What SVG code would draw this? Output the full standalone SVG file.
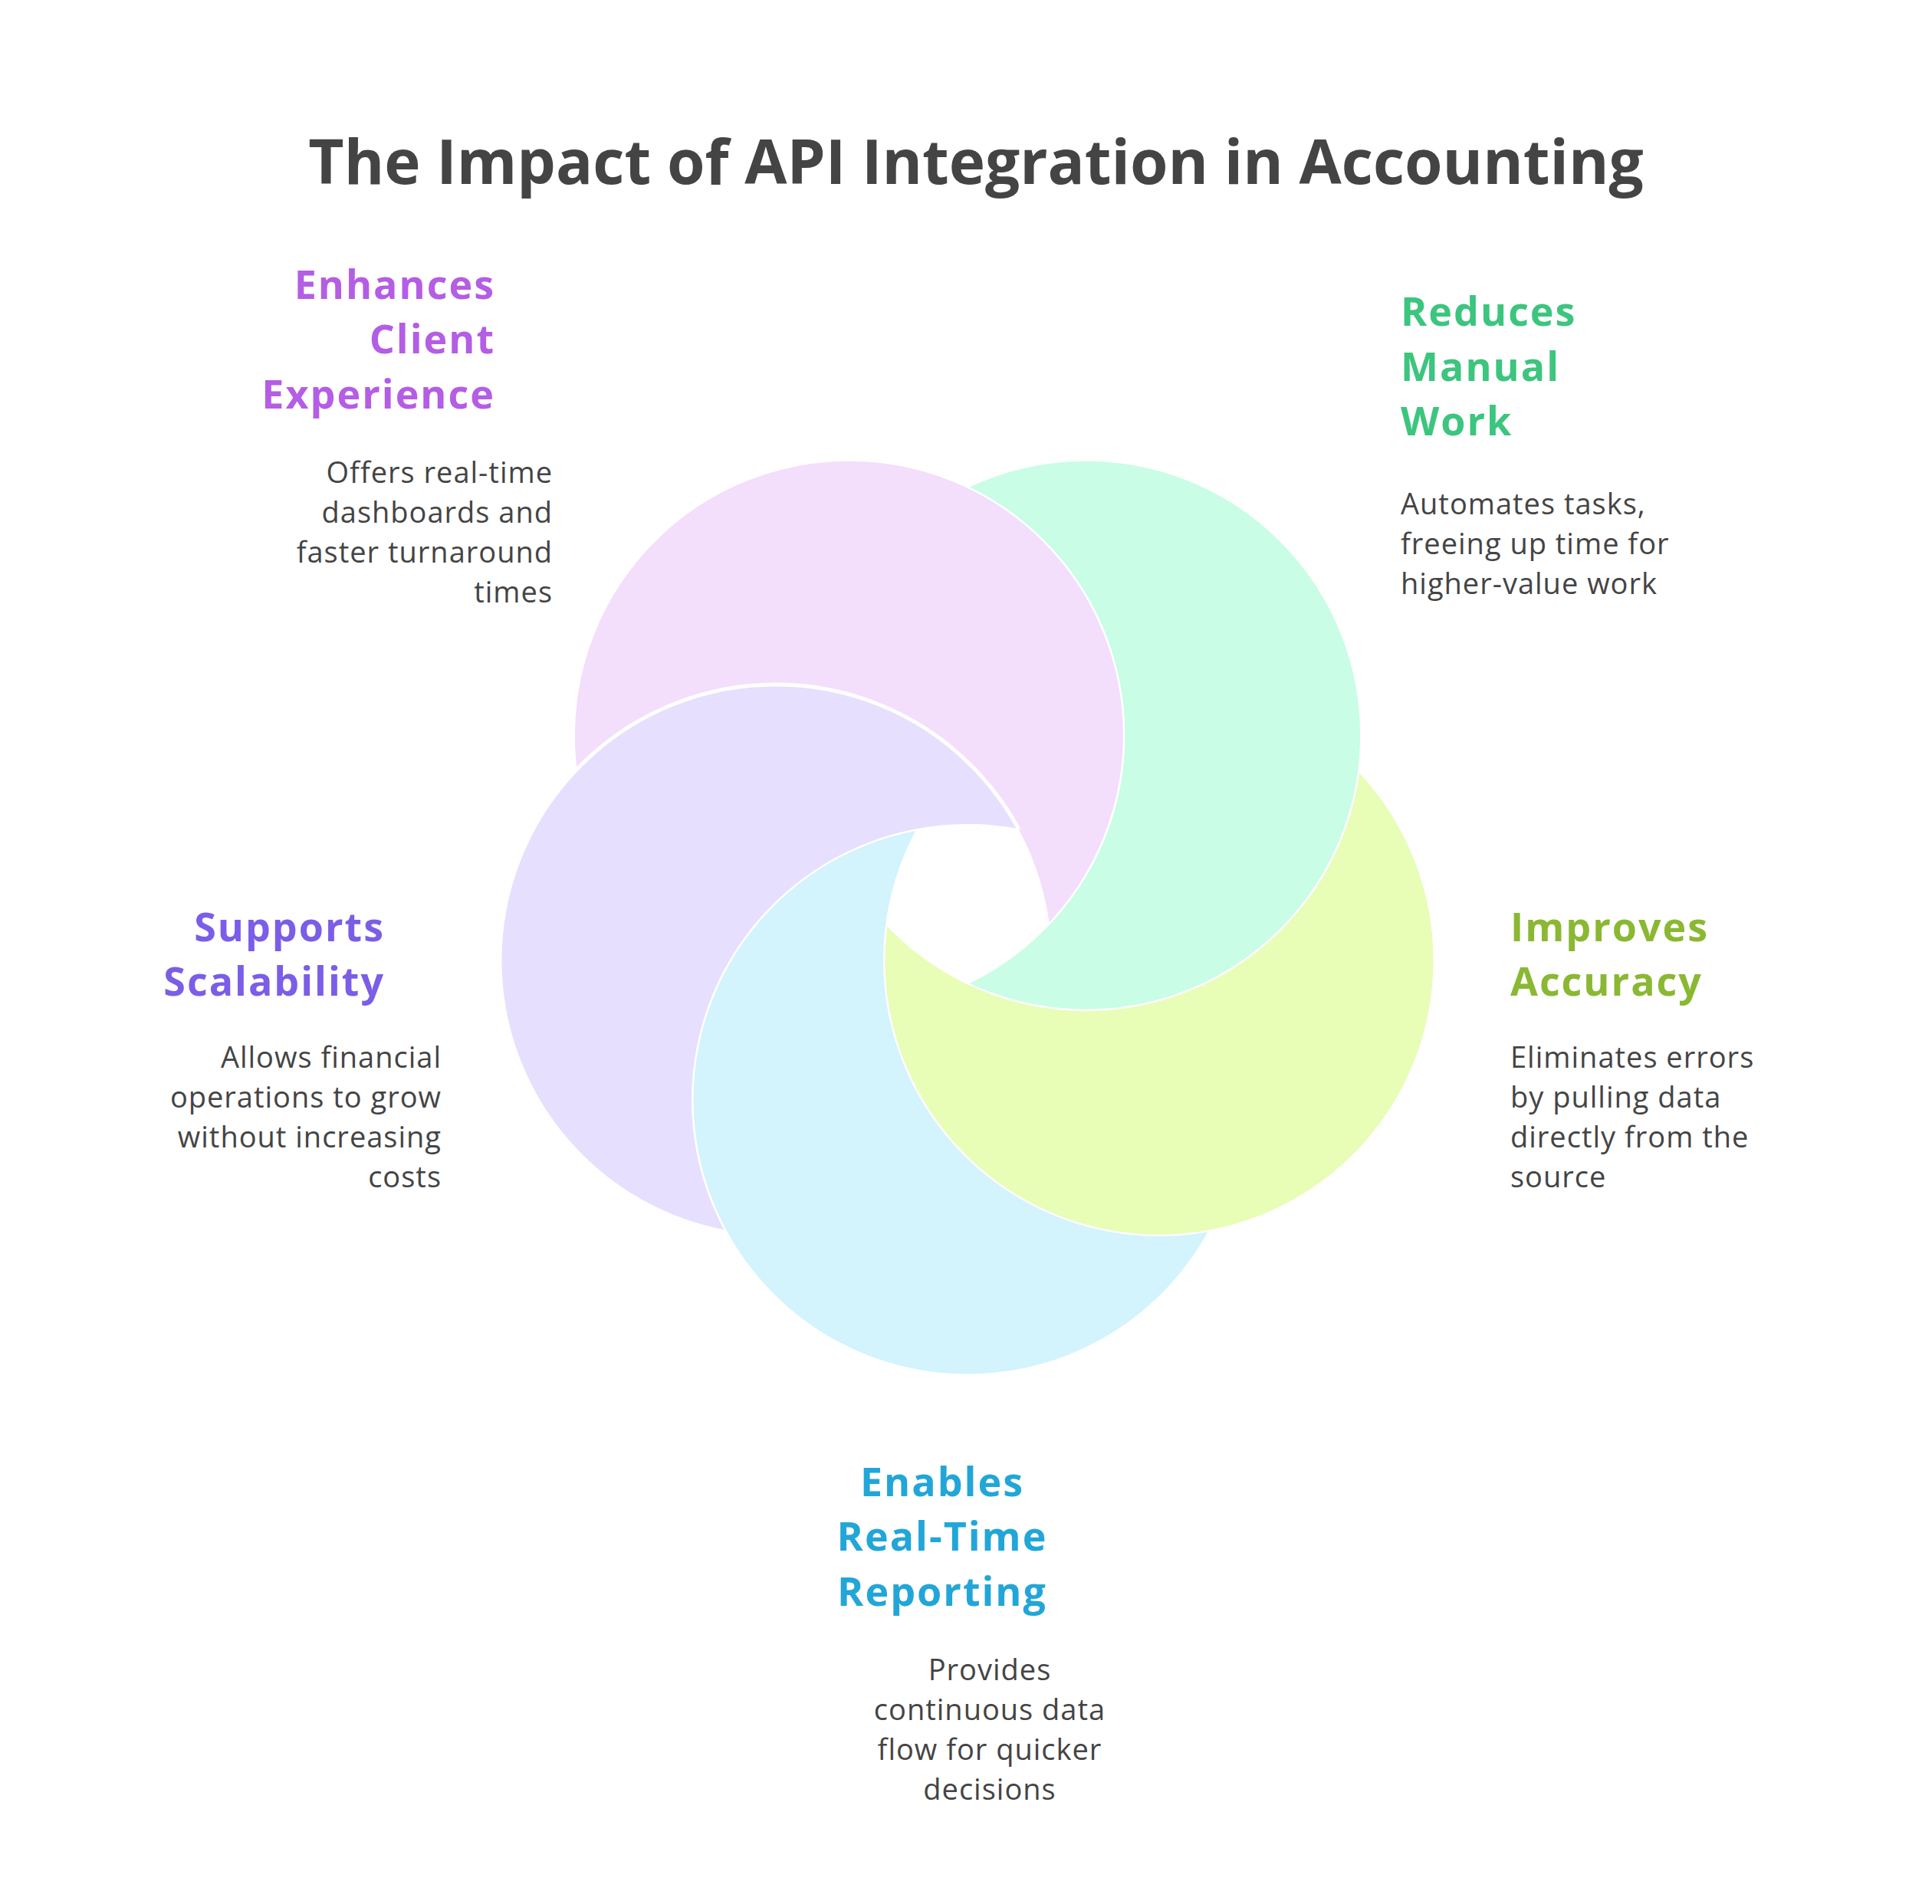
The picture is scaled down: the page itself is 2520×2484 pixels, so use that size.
<svg xmlns="http://www.w3.org/2000/svg" width="2520" height="2484" viewBox="0 0 2520 2484">
<style>
.t{font-family:"Open Sans","Liberation Sans",sans-serif;}
.title{font-size:80px;font-weight:bold;fill:#444;}
.h{font-size:52px;font-weight:bold;letter-spacing:2px;}
.b{font-size:38px;fill:#444;letter-spacing:1px;}
.c{stroke:#fff;stroke-width:5;}
</style>
<defs>
<mask id="mPink" maskUnits="userSpaceOnUse" x="0" y="0" width="2520" height="2484"><rect width="2520" height="2484" fill="#fff"/><circle cx="1012" cy="1253" r="360" fill="#000"/></mask>
<mask id="mPurple" maskUnits="userSpaceOnUse" x="0" y="0" width="2520" height="2484"><rect width="2520" height="2484" fill="#fff"/><circle cx="1262" cy="1435" r="360" fill="#000"/></mask>
<mask id="mBlue" maskUnits="userSpaceOnUse" x="0" y="0" width="2520" height="2484"><rect width="2520" height="2484" fill="#fff"/><circle cx="1512" cy="1253" r="360" fill="#000"/></mask>
<mask id="mYellow" maskUnits="userSpaceOnUse" x="0" y="0" width="2520" height="2484"><rect width="2520" height="2484" fill="#fff"/><circle cx="1416.6" cy="959.2" r="360" fill="#000"/></mask>
<mask id="mGreen" maskUnits="userSpaceOnUse" x="0" y="0" width="2520" height="2484"><rect width="2520" height="2484" fill="#fff"/><circle cx="1107.4" cy="959.2" r="360" fill="#000"/></mask>
</defs>
<rect width="2520" height="2484" fill="#fff"/>
<text class="t title" x="1273" y="240" text-anchor="middle">The Impact of API Integration in Accounting</text>
<g id="pink"><circle class="c" cx="1107.4" cy="959.2" r="360" fill="#f3defc" mask="url(#mPink)"/>
<text class="t h" fill="#b45de5" text-anchor="end"><tspan x="646" y="390">Enhances</tspan><tspan x="646" y="461">Client</tspan><tspan x="646" y="533">Experience</tspan></text>
<text class="t b" text-anchor="end"><tspan x="721" y="630">Offers real-time</tspan><tspan x="721" y="682">dashboards and</tspan><tspan x="721" y="734">faster turnaround</tspan><tspan x="721" y="786">times</tspan></text></g>
<g id="green"><circle class="c" cx="1416.6" cy="959.2" r="360" fill="#c9fde5" mask="url(#mGreen)"/>
<text class="t h" fill="#3cc57e"><tspan x="1827" y="425">Reduces</tspan><tspan x="1827" y="497">Manual</tspan><tspan x="1827" y="568">Work</tspan></text>
<text class="t b"><tspan x="1827" y="671">Automates tasks,</tspan><tspan x="1827" y="723">freeing up time for</tspan><tspan x="1827" y="775">higher-value work</tspan></text></g>
<g id="yellow"><circle class="c" cx="1512" cy="1253" r="360" fill="#e8fdb6" mask="url(#mYellow)"/>
<text class="t h" fill="#8ab833"><tspan x="1970" y="1228">Improves</tspan><tspan x="1970" y="1299">Accuracy</tspan></text>
<text class="t b"><tspan x="1970" y="1393">Eliminates errors</tspan><tspan x="1970" y="1445">by pulling data</tspan><tspan x="1970" y="1497">directly from the</tspan><tspan x="1970" y="1549">source</tspan></text></g>
<g id="blue"><circle class="c" cx="1262" cy="1435" r="360" fill="#d3f3fd" mask="url(#mBlue)"/>
<text class="t h" fill="#22a6d8" text-anchor="middle"><tspan x="1229" y="1952">Enables</tspan><tspan x="1229" y="2023">Real-Time</tspan><tspan x="1229" y="2095">Reporting</tspan></text>
<text class="t b" text-anchor="middle"><tspan x="1291" y="2192">Provides</tspan><tspan x="1291" y="2244">continuous data</tspan><tspan x="1291" y="2296">flow for quicker</tspan><tspan x="1291" y="2348">decisions</tspan></text></g>
<g id="purple"><circle class="c" cx="1012" cy="1253" r="360" fill="#e6dffd" mask="url(#mPurple)"/>
<text class="t h" fill="#7b5de8" text-anchor="end"><tspan x="502" y="1228">Supports</tspan><tspan x="502" y="1299">Scalability</tspan></text>
<text class="t b" text-anchor="end"><tspan x="576" y="1393">Allows financial</tspan><tspan x="576" y="1445">operations to grow</tspan><tspan x="576" y="1497">without increasing</tspan><tspan x="576" y="1549">costs</tspan></text></g>
<g id="connectors"/>
</svg>
